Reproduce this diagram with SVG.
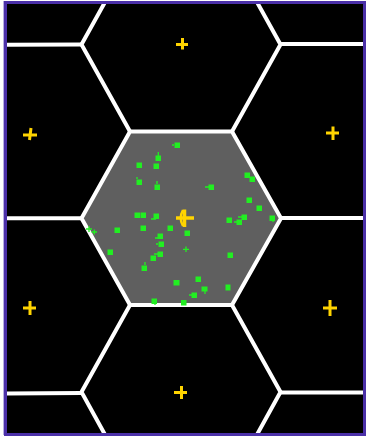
<svg xmlns="http://www.w3.org/2000/svg" width="367" height="436" viewBox="0 0 367 436">
<style>
.edge{fill:none;stroke:#ffffff;stroke-width:4;stroke-linejoin:round}
.cross{fill:none;stroke:#ffd400;stroke-width:3}
.dot{fill:#22ee22}
.tick{stroke:#22ee22;stroke-width:1.3}
</style>
<defs>
<clipPath id="area"><rect x="7" y="4" width="356" height="429"/></clipPath>
</defs>
<rect x="0" y="0" width="367" height="436" fill="#ffffff"/>
<rect x="3" y="1" width="1.5" height="434" fill="#b8aee0"/>
<rect x="5.5" y="2.5" width="359" height="432" fill="#000000" stroke="#4b30a8" stroke-width="3"/>
<g clip-path="url(#area)">
<g id="center-cell">
<polygon points="130,131.5 232,131.5 281,218.3 232,305 130,305 81.5,218.3" fill="#5f5f5f"/>
</g>
<g id="connectors">
<polygon class="edge" points="130,131.5 232,131.5 281,218.3 232,305 130,305 81.5,218.3"/>
<polyline class="edge" points="130,-43 81.5,44.5 130,131.5"/>
<polyline class="edge" points="232,-43 280.5,44.5 232,131.5"/>
<polyline class="edge" points="130,305 81.5,392 130,480"/>
<polyline class="edge" points="232,305 280.5,392 232,480"/>
<line class="edge" x1="0" y1="44.8" x2="81.5" y2="44.5"/>
<line class="edge" x1="280.5" y1="44" x2="367" y2="44"/>
<line class="edge" x1="0" y1="218.3" x2="81.5" y2="218.3"/>
<line class="edge" x1="281" y1="218" x2="367" y2="218"/>
<line class="edge" x1="0" y1="393.5" x2="81.5" y2="393"/>
<line class="edge" x1="280.5" y1="392.5" x2="367" y2="392.5"/>
</g>
</g>
<g id="centers">
<path class="cross" d="M176,44.5 H188 M182.5,38 V49.5"/>
<path class="cross" d="M23,135 H37 M31,128 L29.5,140"/>
<path class="cross" d="M326,133 H339 M333,126.5 V140"/>
<path class="cross" d="M23,308 H36 M30,301 V315"/>
<path class="cross" d="M323,308 H337 M330,300 V316"/>
<path class="cross" d="M174,392.5 H187 M181.5,386 V399"/>
<path d="M176,218 H194 M184.5,209.5 V227" fill="none" stroke="#ffd400" stroke-width="3.5"/>
<path d="M183,210 Q178.5,218 183,226" fill="none" stroke="#ffd400" stroke-width="2.5"/>
</g>
<g id="samples">
<rect class="dot" x="174.5" y="142.5" width="5.5" height="5.5"/>
<rect class="dot" x="155.5" y="155.5" width="5.5" height="5.5"/>
<rect class="dot" x="136.5" y="162.5" width="5.5" height="5.5"/>
<rect class="dot" x="153.5" y="163.5" width="5.5" height="5.5"/>
<rect class="dot" x="136.5" y="179.5" width="5.5" height="5.5"/>
<rect class="dot" x="154.5" y="184.5" width="5.5" height="5.5"/>
<rect class="dot" x="208.5" y="184.5" width="5.5" height="5.5"/>
<rect class="dot" x="244.5" y="172.5" width="5.5" height="5.5"/>
<rect class="dot" x="249.5" y="176.5" width="5.5" height="5.5"/>
<rect class="dot" x="246.5" y="197.5" width="5.5" height="5.5"/>
<rect class="dot" x="256.5" y="205.5" width="5.5" height="5.5"/>
<rect class="dot" x="269.5" y="215.5" width="5.5" height="5.5"/>
<rect class="dot" x="241.5" y="214.5" width="5.5" height="5.5"/>
<rect class="dot" x="226.5" y="217.5" width="5.5" height="5.5"/>
<rect class="dot" x="236.5" y="219.5" width="5.5" height="5.5"/>
<rect class="dot" x="134.5" y="212.5" width="5.5" height="5.5"/>
<rect class="dot" x="140.5" y="212.5" width="5.5" height="5.5"/>
<rect class="dot" x="153.5" y="213.5" width="5.5" height="5.5"/>
<rect class="dot" x="140.5" y="225.5" width="5.5" height="5.5"/>
<rect class="dot" x="114.5" y="227.5" width="5.5" height="5.5"/>
<rect class="dot" x="167.5" y="225.5" width="5.5" height="5.5"/>
<rect class="dot" x="184.5" y="230.5" width="5.5" height="5.5"/>
<rect class="dot" x="157.5" y="233.5" width="5.5" height="5.5"/>
<rect class="dot" x="158.5" y="241.5" width="5.5" height="5.5"/>
<rect class="dot" x="107.5" y="249.5" width="5.5" height="5.5"/>
<rect class="dot" x="157.5" y="251.5" width="5.5" height="5.5"/>
<rect class="dot" x="150.5" y="255.5" width="5.5" height="5.5"/>
<rect class="dot" x="141.5" y="265.5" width="5.5" height="5.5"/>
<rect class="dot" x="173.5" y="280" width="6" height="5.5"/>
<rect class="dot" x="151.5" y="298.5" width="5.5" height="5.5"/>
<rect class="dot" x="181" y="300" width="5.5" height="5.5"/>
<rect class="dot" x="227.5" y="252.5" width="5.5" height="5.5"/>
<rect class="dot" x="195.5" y="276.5" width="5.5" height="5.5"/>
<rect class="dot" x="201.5" y="286.5" width="6" height="5"/>
<rect class="dot" x="225.5" y="284.5" width="5" height="6"/>
<rect class="dot" x="191.5" y="292.5" width="5.5" height="5.5"/>
<path class="tick" d="M158.3,152 V156 M157,184 V181 M137,179 V177 M205,291 V294 M155,301 V305 M145,265 V262 M174,145 H172 M156,219 H151 M160,238 H155 M158,244 H156 M158,254 H154 M193,295 H189 M209,187 H205 M243,217 H238 M239,222 H234 M273,219 V222"/>
<path class="tick" d="M86,229 H92 M89,226 V232 M91.5,232 H97 M94.3,229.5 V234.5 M183,249.3 H189 M186,246.5 V252"/>
</g>
</svg>
